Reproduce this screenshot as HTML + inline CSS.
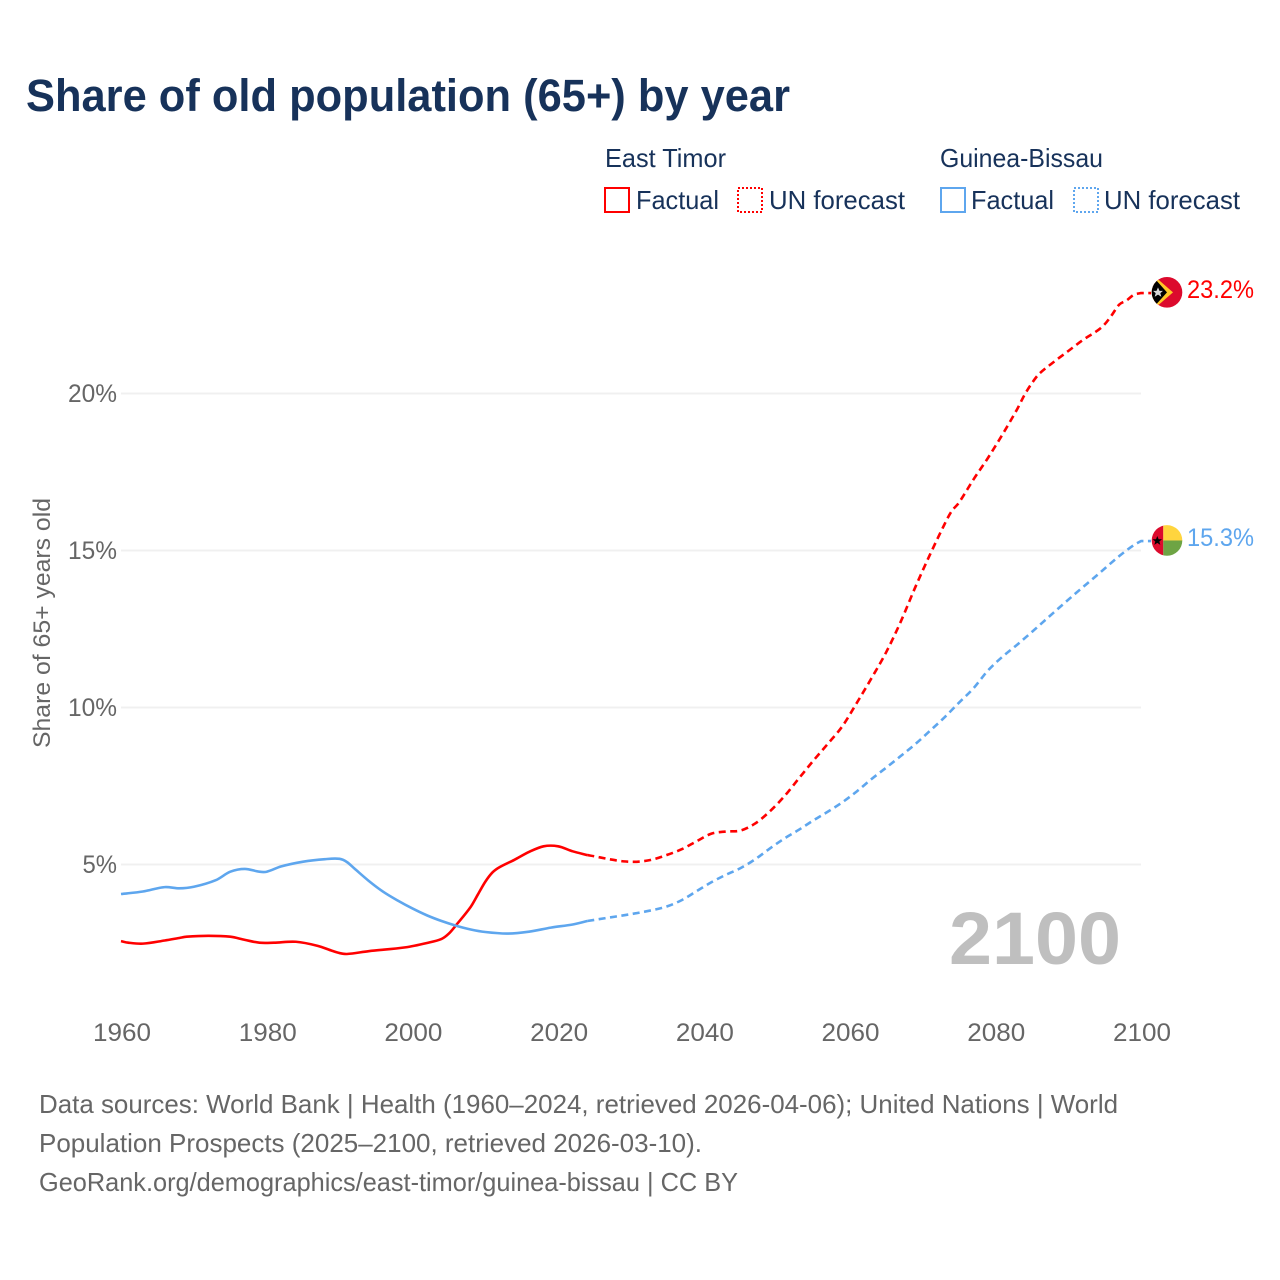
<!DOCTYPE html>
<html lang="en">
<head>
<meta charset="utf-8">
<title>Share of old population (65+) by year</title>
<style>
html,body{margin:0;padding:0;background:#fff;}
svg{display:block;}
text{font-family:"Liberation Sans",sans-serif;}
</style>
</head>
<body>
<svg id="chart" width="1280" height="1280" viewBox="0 0 1280 1280" xmlns="http://www.w3.org/2000/svg">
  <defs>
    <clipPath id="flag-clip-circle"><circle cx="0" cy="0" r="15.3"/></clipPath>
  </defs>
  <rect x="0" y="0" width="1280" height="1280" fill="#ffffff"/>

  <text x="26" y="111" font-size="45" font-weight="700" fill="#17325a" textLength="764" lengthAdjust="spacingAndGlyphs">Share of old population (65+) by year</text>

  <g>
    <text x="605" y="167" font-size="26" fill="#17325a" textLength="121" lengthAdjust="spacingAndGlyphs">East Timor</text>
    <rect x="605" y="188" width="24" height="24" fill="none" stroke="#ff0000" stroke-width="2"/>
    <text x="636" y="209" font-size="26" fill="#17325a" textLength="83" lengthAdjust="spacingAndGlyphs">Factual</text>
    <rect x="738" y="188" width="24" height="24" fill="none" stroke="#ff0000" stroke-width="2" stroke-dasharray="2 2"/>
    <text x="769" y="209" font-size="26" fill="#17325a" textLength="136" lengthAdjust="spacingAndGlyphs">UN forecast</text>

    <text x="940" y="167" font-size="26" fill="#17325a" textLength="163" lengthAdjust="spacingAndGlyphs">Guinea-Bissau</text>
    <rect x="941" y="188" width="24" height="24" fill="none" stroke="#5ea6ee" stroke-width="2"/>
    <text x="971" y="209" font-size="26" fill="#17325a" textLength="83" lengthAdjust="spacingAndGlyphs">Factual</text>
    <rect x="1074" y="188" width="24" height="24" fill="none" stroke="#5ea6ee" stroke-width="2" stroke-dasharray="2 2"/>
    <text x="1104" y="209" font-size="26" fill="#17325a" textLength="136" lengthAdjust="spacingAndGlyphs">UN forecast</text>
  </g>

  <g id="grid"></g>
  <g id="yticks"></g>
  <g id="xticks"></g>

  <text transform="translate(50 748) rotate(-90)" x="0" y="0" font-size="24" fill="#666666" textLength="250" lengthAdjust="spacingAndGlyphs">Share of 65+ years old</text>

  <text x="949" y="964" font-size="74" font-weight="700" fill="#bfbfbf" textLength="172" lengthAdjust="spacingAndGlyphs">2100</text>

  <g id="series"></g>

  <g id="flag-east-timor">
    <g clip-path="url(#flag-clip-circle)">
      <rect x="-16" y="-16" width="32" height="32" fill="#dc0a2d"/>
      <polygon points="-17,-20 6,0 -17,20" fill="#ffc726"/>
      <polygon points="-17,-19 0,0 -17,19" fill="#000000"/>
      <polygon points="-9,-5 -7.5,-1.5 -4,-1.5 -6.7,0.8 -5.7,4.4 -9,2.3 -12.3,4.4 -11.3,0.8 -14,-1.5 -10.5,-1.5" fill="#d8d8d8"/>
    </g>
  </g>
  <g id="flag-guinea-bissau">
    <g clip-path="url(#flag-clip-circle)">
      <rect x="-16" y="-16" width="12.3" height="32" fill="#dc0a2d"/>
      <rect x="-3.7" y="-16" width="20" height="16" fill="#ffd53e"/>
      <rect x="-3.7" y="0" width="20" height="16" fill="#6ea444"/>
      <polygon points="-9.7,-4.5 -8.4,-1.2 -5,-1.2 -7.7,1 -6.7,4.4 -9.7,2.4 -12.7,4.4 -11.7,1 -14.4,-1.2 -11,-1.2" fill="#000000"/>
    </g>
  </g>
  <text id="label-east-timor" x="1187" font-size="25" fill="#ff0000" textLength="67" lengthAdjust="spacingAndGlyphs"></text>
  <text id="label-guinea-bissau" x="1187" font-size="25" fill="#5ea6ee" textLength="67" lengthAdjust="spacingAndGlyphs"></text>

  <g>
    <text x="39" y="1113" font-size="26" fill="#666666" textLength="1079" lengthAdjust="spacingAndGlyphs">Data sources: World Bank | Health (1960–2024, retrieved 2026-04-06); United Nations | World</text>
    <text x="39" y="1152" font-size="26" fill="#666666" textLength="663" lengthAdjust="spacingAndGlyphs">Population Prospects (2025–2100, retrieved 2026-03-10).</text>
    <text x="39" y="1191" font-size="26" fill="#666666" textLength="699" lengthAdjust="spacingAndGlyphs">GeoRank.org/demographics/east-timor/guinea-bissau | CC BY</text>
  </g>
</svg>

<script>
const xTickYears = [1960, 1980, 2000, 2020, 2040, 2060, 2080, 2100];
const yTickValues = [5, 10, 15, 20];

const eastTimorFactualYears = [1960,1961,1963,1966,1968,1969,1972,1975,1977,1979,1981,1984,1987,1989,1990,1991,1994,1999,2002,2004,2005,2006,2008,2009,2010,2011,2012,2014,2016,2018,2020,2022,2024];
const eastTimorFactualValues = [2.56,2.51,2.48,2.58,2.66,2.70,2.73,2.70,2.60,2.51,2.51,2.54,2.41,2.25,2.18,2.15,2.24,2.36,2.50,2.63,2.80,3.07,3.65,4.05,4.45,4.75,4.92,5.15,5.40,5.58,5.58,5.42,5.30];

const eastTimorForecastYears = [2024,2025,2027,2029,2031,2033,2035,2037,2039,2041,2043,2045,2047,2049,2051,2053,2055,2057,2059,2061,2063,2065,2067,2069,2071,2073,2074,2075,2077,2079,2081,2083,2084,2085,2086,2088,2090,2092,2094,2095,2096,2097,2098,2099,2100];
const eastTimorForecastValues = [5.30,5.26,5.17,5.10,5.09,5.16,5.31,5.49,5.74,5.98,6.05,6.08,6.30,6.68,7.16,7.73,8.30,8.84,9.40,10.15,10.93,11.75,12.72,13.82,14.85,15.82,16.25,16.52,17.26,17.95,18.70,19.50,19.95,20.32,20.62,21.00,21.35,21.70,22.00,22.20,22.50,22.83,22.96,23.14,23.20];

const guineaBissauFactualYears = [1960,1963,1966,1968,1970,1973,1975,1977,1979,1980,1982,1985,1988,1990,1991,1992,1994,1996,1998,2000,2002,2004,2006,2008,2010,2013,2016,2019,2022,2024];
const guineaBissauFactualValues = [4.06,4.14,4.28,4.24,4.29,4.50,4.77,4.86,4.77,4.77,4.94,5.09,5.17,5.18,5.08,4.88,4.48,4.13,3.85,3.60,3.38,3.20,3.05,2.93,2.85,2.80,2.86,2.99,3.09,3.20];

const guineaBissauForecastYears = [2024,2027,2030,2033,2035,2037,2039,2041,2043,2045,2047,2049,2051,2053,2055,2057,2059,2061,2063,2065,2067,2069,2071,2073,2075,2077,2079,2081,2083,2085,2088,2091,2094,2097,2099,2100];
const guineaBissauForecastValues = [3.20,3.31,3.42,3.55,3.67,3.87,4.15,4.43,4.67,4.88,5.16,5.50,5.82,6.10,6.40,6.68,6.98,7.33,7.72,8.08,8.45,8.83,9.25,9.68,10.15,10.61,11.18,11.62,12.00,12.40,13.02,13.63,14.22,14.82,15.17,15.30];

const SVGNS = 'http://www.w3.org/2000/svg';
function xScale(year) { return 121 + (year - 1960) * (1020 / 140); }
function yScale(value) { return 1021.5 - value * 31.4; }
function linePath(years, values, endX) {
  const pts = years.map(function (yr, i) { return [xScale(yr), yScale(values[i])]; });
  let d = 'M' + pts[0][0].toFixed(2) + ' ' + pts[0][1].toFixed(2);
  for (let i = 0; i < pts.length - 1; i++) {
    const p0 = pts[Math.max(0, i - 1)];
    const p1 = pts[i];
    const p2 = pts[i + 1];
    const p3 = pts[Math.min(pts.length - 1, i + 2)];
    const k = (p2[0] - p1[0]) / 3;
    const s1 = (p2[1] - p0[1]) / ((p2[0] - p0[0]) || 1);
    const s2 = (p3[1] - p1[1]) / ((p3[0] - p1[0]) || 1);
    d += 'C' + (p1[0] + k).toFixed(2) + ' ' + (p1[1] + s1 * k).toFixed(2) + ' ' +
         (p2[0] - k).toFixed(2) + ' ' + (p2[1] - s2 * k).toFixed(2) + ' ' +
         p2[0].toFixed(2) + ' ' + p2[1].toFixed(2);
  }
  if (endX) {
    d += 'L' + endX + ' ' + pts[pts.length - 1][1].toFixed(2);
  }
  return d;
}

const grid = document.getElementById('grid');
const yticks = document.getElementById('yticks');
const xticks = document.getElementById('xticks');
const seriesGroup = document.getElementById('series');

yTickValues.forEach(function (v) {
  const line = document.createElementNS(SVGNS, 'line');
  line.setAttribute('x1', 121);
  line.setAttribute('x2', 1141);
  line.setAttribute('y1', yScale(v));
  line.setAttribute('y2', yScale(v));
  line.setAttribute('stroke', '#f0f0f0');
  line.setAttribute('stroke-width', '2');
  
  
  grid.appendChild(line);

  const label = v + '%';
  const width = (label.length - 1) * 14.5 + 20;
  const t = document.createElementNS(SVGNS, 'text');
  t.textContent = label;
  t.setAttribute('x', 117 - width);
  t.setAttribute('y', yScale(v) + 8.5);
  t.setAttribute('font-size', '25');
  t.setAttribute('fill', '#666666');
  t.setAttribute('textLength', width);
  t.setAttribute('lengthAdjust', 'spacingAndGlyphs');
  
  
  yticks.appendChild(t);
});

xTickYears.forEach(function (year) {
  const t = document.createElementNS(SVGNS, 'text');
  t.textContent = String(year);
  t.setAttribute('x', xScale(year) - 28);
  t.setAttribute('y', 1041);
  t.setAttribute('font-size', '25');
  t.setAttribute('fill', '#666666');
  t.setAttribute('textLength', '58');
  t.setAttribute('lengthAdjust', 'spacingAndGlyphs');
  
  
  xticks.appendChild(t);
});

const factualEastTimor = document.createElementNS(SVGNS, 'path');
factualEastTimor.setAttribute('d', linePath(eastTimorFactualYears, eastTimorFactualValues));
factualEastTimor.setAttribute('fill', 'none');
factualEastTimor.setAttribute('stroke', '#ff0000');
factualEastTimor.setAttribute('stroke-width', '2.6');
factualEastTimor.setAttribute('stroke-linejoin', 'round');


seriesGroup.appendChild(factualEastTimor);

const forecastEastTimor = document.createElementNS(SVGNS, 'path');
forecastEastTimor.setAttribute('d', linePath(eastTimorForecastYears, eastTimorForecastValues, 1151));
forecastEastTimor.setAttribute('fill', 'none');
forecastEastTimor.setAttribute('stroke', '#ff0000');
forecastEastTimor.setAttribute('stroke-width', '2.6');
forecastEastTimor.setAttribute('stroke-dasharray', '7 4.5');


seriesGroup.appendChild(forecastEastTimor);

const factualGuineaBissau = document.createElementNS(SVGNS, 'path');
factualGuineaBissau.setAttribute('d', linePath(guineaBissauFactualYears, guineaBissauFactualValues));
factualGuineaBissau.setAttribute('fill', 'none');
factualGuineaBissau.setAttribute('stroke', '#5ea6ee');
factualGuineaBissau.setAttribute('stroke-width', '2.6');
factualGuineaBissau.setAttribute('stroke-linejoin', 'round');


seriesGroup.appendChild(factualGuineaBissau);

const forecastGuineaBissau = document.createElementNS(SVGNS, 'path');
forecastGuineaBissau.setAttribute('d', linePath(guineaBissauForecastYears, guineaBissauForecastValues, 1151));
forecastGuineaBissau.setAttribute('fill', 'none');
forecastGuineaBissau.setAttribute('stroke', '#5ea6ee');
forecastGuineaBissau.setAttribute('stroke-width', '2.6');
forecastGuineaBissau.setAttribute('stroke-dasharray', '7 4.5');


seriesGroup.appendChild(forecastGuineaBissau);

const lastEastTimor = eastTimorForecastValues[eastTimorForecastValues.length - 1];
const lastGuineaBissau = guineaBissauForecastValues[guineaBissauForecastValues.length - 1];
document.getElementById('flag-east-timor').setAttribute('transform', 'translate(1167 ' + (yScale(lastEastTimor) - 0.7) + ')');
document.getElementById('flag-guinea-bissau').setAttribute('transform', 'translate(1167 ' + (yScale(lastGuineaBissau) - 0.6) + ')');
const labelEastTimor = document.getElementById('label-east-timor');
labelEastTimor.textContent = lastEastTimor.toFixed(1) + '%';
labelEastTimor.setAttribute('y', yScale(lastEastTimor) + 5);
const labelGuineaBissau = document.getElementById('label-guinea-bissau');
labelGuineaBissau.textContent = lastGuineaBissau.toFixed(1) + '%';
labelGuineaBissau.setAttribute('y', yScale(lastGuineaBissau) + 5);
</script>
</body>
</html>
